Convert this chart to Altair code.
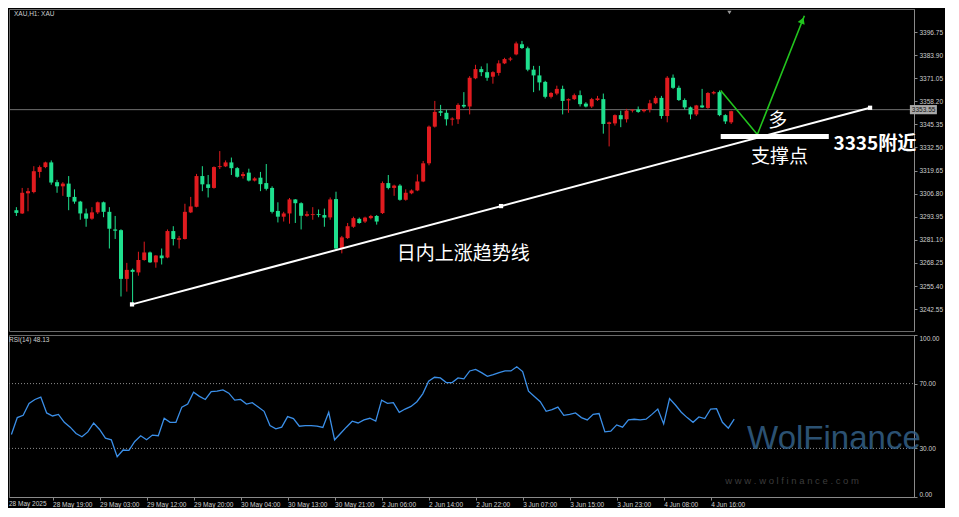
import altair as alt
import pandas as pd

# ---------------- data ----------------
opens = [3297.6, 3295.8, 3307.0, 3307.7, 3318.9, 3321.6, 3324.2, 3313.2, 3310.9, 3312.4,
         3305.0, 3302.4, 3295.8, 3292.9, 3296.4, 3302.0, 3296.7, 3286.9, 3286.5, 3259.4,
         3264.4, 3263.0, 3269.9, 3274.1, 3268.6, 3272.4, 3271.3, 3286.0, 3281.2, 3281.6,
         3296.4, 3299.5, 3316.6, 3312.0, 3310.0, 3321.6, 3322.0, 3324.2, 3321.0, 3316.6,
         3318.5, 3314.1, 3315.7, 3312.7, 3310.0, 3297.2, 3294.0, 3295.8, 3303.6, 3301.5,
         3294.5, 3294.9, 3295.4, 3294.9, 3293.6, 3303.8, 3276.3, 3282.1, 3288.4, 3292.8,
         3291.3, 3293.2, 3294.4, 3296.0, 3312.7, 3310.0, 3311.3, 3303.4, 3307.0, 3308.6,
         3313.6, 3323.7, 3344.1, 3352.7, 3351.8, 3348.0, 3348.2, 3356.2, 3355.3, 3371.0,
         3376.1, 3374.4, 3371.9, 3374.0, 3379.3, 3381.4, 3384.3, 3390.0, 3387.7, 3375.8,
         3372.6, 3369.0, 3360.7, 3362.5, 3365.1, 3358.7, 3359.4, 3361.6, 3356.9, 3355.3,
         3358.9, 3359.4, 3345.6, 3345.9, 3350.5, 3348.2, 3353.0, 3353.6, 3352.7, 3353.6,
         3357.1, 3360.1, 3350.0, 3371.3, 3365.7, 3358.9, 3354.8, 3350.9, 3355.9, 3354.5,
         3362.6, 3363.3, 3350.5, 3346.5]
highs = [3299.3, 3310.0, 3310.0, 3322.1, 3322.5, 3324.6, 3325.3, 3314.5, 3313.2, 3316.6,
         3309.2, 3302.8, 3298.5, 3299.3, 3302.4, 3302.4, 3299.3, 3294.4, 3287.0, 3268.3,
         3265.1, 3274.5, 3280.1, 3274.6, 3272.6, 3276.3, 3286.9, 3288.7, 3283.3, 3301.2,
         3305.0, 3317.8, 3322.1, 3317.2, 3322.0, 3330.5, 3325.3, 3326.9, 3321.6, 3318.9,
         3320.7, 3316.0, 3318.9, 3323.3, 3310.9, 3302.0, 3296.7, 3304.4, 3303.8, 3302.0,
         3297.0, 3299.3, 3298.0, 3298.5, 3304.7, 3307.9, 3283.3, 3290.5, 3294.0, 3293.5,
         3294.0, 3295.0, 3294.9, 3313.6, 3317.2, 3311.8, 3312.1, 3309.2, 3309.2, 3317.5,
         3325.0, 3344.7, 3358.4, 3356.2, 3353.5, 3349.3, 3357.1, 3363.3, 3372.2, 3378.5,
         3377.6, 3379.3, 3374.9, 3381.0, 3382.4, 3382.9, 3391.4, 3391.8, 3388.6, 3377.9,
         3377.9, 3369.6, 3363.3, 3366.9, 3366.9, 3359.8, 3362.5, 3364.2, 3357.7, 3360.1,
         3361.2, 3362.5, 3346.9, 3350.9, 3353.0, 3354.0, 3353.6, 3355.3, 3354.0, 3359.0,
         3361.2, 3361.2, 3372.2, 3373.1, 3366.9, 3359.8, 3355.3, 3356.2, 3365.1, 3363.3,
         3364.0, 3364.2, 3351.0, 3353.0]
lows = [3294.4, 3295.5, 3297.0, 3307.0, 3315.7, 3321.0, 3311.8, 3307.3, 3305.6, 3297.6,
        3301.2, 3292.3, 3288.4, 3292.3, 3295.5, 3293.7, 3276.3, 3281.6, 3249.6, 3252.3,
        3245.2, 3261.2, 3269.5, 3268.3, 3265.6, 3267.4, 3270.9, 3278.0, 3276.3, 3281.3,
        3296.0, 3299.2, 3308.2, 3304.7, 3309.6, 3320.5, 3321.6, 3317.2, 3315.7, 3315.2,
        3313.6, 3313.6, 3308.2, 3308.6, 3295.8, 3290.8, 3291.3, 3290.1, 3290.5, 3286.9,
        3294.0, 3292.3, 3293.7, 3288.4, 3292.3, 3275.5, 3273.6, 3281.6, 3287.8, 3290.1,
        3290.5, 3292.5, 3289.6, 3295.5, 3309.2, 3305.6, 3302.9, 3302.9, 3306.5, 3308.2,
        3313.2, 3322.6, 3343.6, 3350.0, 3344.7, 3344.7, 3345.6, 3354.5, 3350.9, 3370.5,
        3372.2, 3369.6, 3368.0, 3372.5, 3378.9, 3380.5, 3383.8, 3387.3, 3374.9, 3363.3,
        3364.2, 3359.8, 3359.8, 3361.6, 3350.9, 3351.8, 3358.9, 3355.3, 3354.8, 3354.5,
        3358.4, 3340.2, 3333.1, 3344.7, 3343.8, 3346.4, 3352.0, 3351.8, 3352.0, 3352.0,
        3356.6, 3348.5, 3346.5, 3365.1, 3358.4, 3353.6, 3348.2, 3350.0, 3354.5, 3354.0,
        3362.0, 3349.9, 3345.6, 3345.6]
closes = [3296.1, 3307.3, 3308.2, 3319.3, 3321.6, 3324.2, 3313.0, 3310.9, 3312.4, 3305.0,
          3302.4, 3295.8, 3292.9, 3296.4, 3302.0, 3296.7, 3287.3, 3286.2, 3259.4, 3264.4,
          3263.3, 3269.9, 3274.1, 3268.6, 3272.4, 3270.9, 3286.0, 3281.6, 3282.0, 3296.7,
          3299.7, 3316.6, 3312.0, 3310.0, 3321.6, 3322.1, 3324.2, 3321.0, 3316.2, 3317.7,
          3314.1, 3315.3, 3312.1, 3309.5, 3296.7, 3294.0, 3295.8, 3303.6, 3301.5, 3294.5,
          3295.4, 3295.4, 3294.9, 3293.5, 3303.6, 3276.3, 3282.5, 3288.7, 3293.2, 3290.5,
          3293.5, 3294.4, 3291.3, 3312.7, 3310.0, 3311.3, 3303.4, 3307.3, 3308.6, 3313.6,
          3323.7, 3344.1, 3352.3, 3351.8, 3348.2, 3348.6, 3356.2, 3355.3, 3371.3, 3376.1,
          3374.4, 3371.3, 3374.4, 3379.3, 3381.7, 3382.0, 3390.4, 3387.9, 3375.8, 3372.6,
          3368.7, 3360.7, 3362.8, 3365.1, 3358.4, 3359.4, 3361.6, 3356.6, 3355.3, 3359.4,
          3359.8, 3345.6, 3346.5, 3350.5, 3348.2, 3353.0, 3353.6, 3352.3, 3353.6, 3357.1,
          3360.1, 3350.0, 3371.3, 3365.7, 3358.9, 3354.8, 3350.9, 3355.9, 3354.8, 3362.8,
          3363.3, 3350.5, 3347.0, 3352.7]
rsi = [38.6, 49.0, 50.4, 57.8, 60.2, 61.7, 51.9, 50.0, 51.0, 46.1,
       43.1, 39.2, 37.2, 40.2, 45.7, 41.7, 36.3, 35.3, 24.9, 29.0,
       28.8, 34.3, 37.8, 35.3, 38.2, 37.8, 48.6, 46.1, 46.1, 55.5,
       57.4, 64.7, 62.1, 60.2, 65.1, 65.3, 66.1, 64.1, 59.8, 60.2,
       57.4, 58.2, 55.5, 52.9, 44.1, 42.1, 43.1, 49.6, 48.4, 43.7,
       44.1, 44.1, 43.7, 42.9, 52.3, 35.3, 39.2, 43.1, 46.8, 45.7,
       47.6, 48.6, 46.8, 59.8, 57.8, 58.2, 52.3, 54.3, 55.9, 58.8,
       63.7, 71.5, 73.9, 73.5, 70.6, 70.6, 73.5, 72.9, 77.8, 78.8,
       76.8, 74.5, 75.5, 76.8, 77.8, 77.8, 80.4, 77.4, 65.3, 62.1,
       58.8, 52.9, 53.9, 55.5, 50.4, 51.0, 51.9, 49.0, 47.6, 51.0,
       51.5, 40.2, 40.6, 44.5, 43.1, 47.6, 48.0, 47.6, 48.0, 51.0,
       54.3, 45.1, 60.8, 56.8, 52.3, 49.0, 46.1, 49.4, 48.4, 54.3,
       54.5, 46.1, 42.5, 48.13]

price_ticks = [3242.55, 3255.40, 3268.25, 3281.10, 3293.95, 3306.80, 3319.65,
               3332.50, 3345.35, 3358.20, 3371.05, 3383.90, 3396.75]
rsi_ticks = [0, 30, 70, 100]
time_tick_bars = [7, 15, 23, 31, 39, 47, 55, 63, 71, 79, 87, 95, 103, 111, 119]
time_tick_labels = ["28 May 19:00", "29 May 03:00", "29 May 12:00", "29 May 20:00",
                    "30 May 04:00", "30 May 13:00", "30 May 21:00", "2 Jun 06:00",
                    "2 Jun 14:00", "2 Jun 22:00", "3 Jun 07:00", "3 Jun 15:00",
                    "3 Jun 23:00", "4 Jun 08:00", "4 Jun 16:00"]
first_date_label = "28 May 2025"
current_price = 3353.55

trend_bars = [19.9, 83.4, 146.9]
trend_prices = [3245.2, 3299.9, 3354.6]
arrow_bars = [121.2, 127.5, 135.6]
arrow_prices = [3364.2, 3339.7, 3405.8]
support_bars = [121.2, 139.8]
support_price = 3338.6

# ---------------- styling ----------------
RED = "#e01b1f"
GREEN = "#1ee08e"
AXIS_GRAY = "#8a8a8a"
LABEL = "#cfcfcf"
W, H1, H2 = 905, 322, 162

xs = alt.Scale(domain=[-0.41, 153.6], nice=False, zero=False)
ys = alt.Scale(domain=[3230.4, 3409.55], nice=False, zero=False)
rs = alt.Scale(domain=[0, 100], nice=False, zero=False)

bars = pd.DataFrame({"i": list(range(len(opens))), "open": opens, "high": highs,
                     "low": lows, "close": closes})
bars["dir"] = ["up" if c >= o else "down" for o, c in zip(opens, closes)]
cscale = alt.Scale(domain=["up", "down"], range=[RED, GREEN])

price_axis = alt.Axis(orient="right", values=price_ticks, format=".2f", labelFontSize=6.5,
                      labelColor=LABEL, labelFont="Liberation Sans", domainColor=AXIS_GRAY,
                      tickColor=AXIS_GRAY, tickSize=3, grid=False, title=None,
                      labelPadding=2)
label_expr = "[" + ",".join(f"'{s}'" for s in time_tick_labels) + "][(datum.value-7)/8]"
time_axis = alt.Axis(values=time_tick_bars, labelExpr=label_expr, labelAlign="left",
                     labelFontSize=6.5, labelColor=LABEL, labelFont="Liberation Sans",
                     domainColor=AXIS_GRAY, tickColor=AXIS_GRAY, tickSize=3, labelPadding=1,
                     grid=False, title=None, labelFlush=False, labelOverlap=False,
                     labelBound=False)
rsi_axis = alt.Axis(orient="right", values=rsi_ticks, format=".2f", labelFontSize=6.5,
                    labelColor=LABEL, labelFont="Liberation Sans", domainColor=AXIS_GRAY,
                    tickColor=AXIS_GRAY, tickSize=3, grid=False, title=None, labelPadding=2,
                    labelFlush=True)


def PX(f="i:Q"):
    return alt.X(f, scale=xs, axis=None)


def PY(f="p:Q"):
    return alt.Y(f, scale=ys, axis=price_axis)


def RX(f="i:Q"):
    return alt.X(f, scale=xs, axis=time_axis)


def RY(f="r:Q"):
    return alt.Y(f, scale=rs, axis=rsi_axis)


# ---------------- price panel ----------------
cur = alt.Chart(pd.DataFrame({"p": [current_price]})).mark_rule(
    color="#6f6f6f", strokeWidth=1).encode(y=PY())

wicks = alt.Chart(bars).mark_rule(strokeWidth=1).encode(
    x=PX(), y=PY("low:Q"), y2="high:Q",
    color=alt.Color("dir:N", scale=cscale, legend=None))
bodies = alt.Chart(bars).mark_bar(size=4).encode(
    x=PX(), y=PY("open:Q"), y2="close:Q",
    color=alt.Color("dir:N", scale=cscale, legend=None))

trend = pd.DataFrame({"i": trend_bars, "p": trend_prices})
tline = alt.Chart(trend.iloc[[0, 2]]).mark_line(color="white", strokeWidth=2).encode(
    x=PX(), y=PY())
tpts = alt.Chart(trend).mark_square(color="white", size=18, opacity=1).encode(
    x=PX(), y=PY())

arr = pd.DataFrame({"k": [0, 1, 2], "i": arrow_bars, "p": arrow_prices})
aline = alt.Chart(arr).mark_line(color="#22c41e", strokeWidth=1.6).encode(
    x=PX(), y=PY(), order="k:Q")
ahead = alt.Chart(pd.DataFrame({"i": [135.25], "p": [3403.2]})).mark_point(
    shape="triangle-up", filled=True, size=55, angle=22, color="#22c41e", opacity=1).encode(
    x=PX(), y=PY())

sup = alt.Chart(pd.DataFrame({"a": [support_bars[0]], "b": [support_bars[1]],
                              "p": [support_price]})).mark_rule(
    color="white", strokeWidth=5).encode(x=PX("a:Q"), x2="b:Q", y=PY())

cjk = pd.DataFrame({"i": [76.9, 131.0, 131.3], "p": [3273.0, 3347.2, 3327.4],
                    "t": ["日内上涨趋势线", "多", "支撑点"]})
cjk_text = alt.Chart(cjk).mark_text(font="Noto Sans CJK SC", fontSize=19, color="white",
                                    align="center", baseline="middle").encode(
    x=PX(), y=PY(), text="t:N")
lvl_text = alt.Chart(pd.DataFrame({"i": [140.6], "p": [3334.4], "t": ["3335附近"]})).mark_text(
    font="Noto Sans CJK SC", fontSize=19, fontWeight="bold", color="white",
    align="left", baseline="middle").encode(x=PX(), y=PY(), text="t:N")

sym_text = alt.Chart(pd.DataFrame({"i": [-0.41], "p": [3409.55], "t": ["XAU,H1: XAU"]})).mark_text(
    font="Liberation Sans", fontSize=6.5, color=LABEL, align="left", baseline="top", dy=2).encode(
    x=PX(), y=PY(), text="t:N")

shift_mark = alt.Chart(pd.DataFrame({"i": [122.7], "p": [3407.6]})).mark_point(
    shape="triangle-down", filled=True, size=18, color="#9a9a9a", opacity=1).encode(
    x=PX(), y=PY())

pbox = alt.Chart(pd.DataFrame({"a": [153.75], "b": [158.4], "p": [3351.0], "p2": [3356.1]})).mark_rect(
    color="#a9a9a9").encode(x=PX("a:Q"), x2="b:Q", y=PY(), y2="p2:Q")
ptxt = alt.Chart(pd.DataFrame({"i": [153.75], "p": [current_price], "t": [f"{current_price:.2f}"]})).mark_text(
    font="Liberation Sans", fontSize=6.5, color="#111111", align="left", baseline="middle", dx=2).encode(
    x=PX(), y=PY(), text="t:N")

price = alt.layer(cur, wicks, bodies, tline, tpts, aline, ahead, sup, cjk_text, lvl_text,
                  sym_text, shift_mark, pbox, ptxt).properties(width=W, height=H1)

# ---------------- RSI panel ----------------
rdf = pd.DataFrame({"i": list(range(len(rsi))), "r": rsi})

levels = alt.Chart(pd.DataFrame({"i": [-0.41, -0.41], "i2": [153.6, 153.6], "r": [30, 70]})).mark_rule(
    color="#8c8c8c", strokeWidth=1, strokeDash=[1, 2]).encode(x=RX(), x2="i2:Q", y=RY())
rline = alt.Chart(rdf).mark_line(color="#3b8fe8", strokeWidth=1.3).encode(x=RX(), y=RY())
rsi_label = alt.Chart(pd.DataFrame({"i": [-0.41], "r": [100], "t": [f"RSI(14) {rsi[-1]:.2f}"]})).mark_text(
    font="Liberation Sans", fontSize=6.5, color=LABEL, align="left", baseline="top", dy=2).encode(
    x=RX(), y=RY(), text="t:N")
date0 = alt.Chart(pd.DataFrame({"i": [-0.41], "r": [0], "t": [first_date_label]})).mark_text(
    font="Liberation Sans", fontSize=6.5, color=LABEL, align="left", baseline="top", dy=4).encode(
    x=RX(), y=RY(), text="t:N")
wm = alt.Chart(pd.DataFrame({"i": [125.2], "r": [36], "t": ["WolFinance"]})).mark_text(
    font="Liberation Sans", fontSize=33, color="#36668f", opacity=0.8, align="left",
    baseline="middle").encode(x=RX(), y=RY(), text="t:N")
wm2 = alt.Chart(pd.DataFrame({"i": [121.5], "r": [9.6], "t": ["w w w . w o l f i n a n c e . c o m"]})).mark_text(
    font="Liberation Sans", fontSize=9.5, color="#3c3c3c", align="left", baseline="middle").encode(
    x=RX(), y=RY(), text="t:N")

rsi_chart = alt.layer(levels, rline, rsi_label, date0, wm, wm2).properties(width=W, height=H2)

chart = alt.vconcat(price, rsi_chart, spacing=2).properties(
    padding={"left": 0, "top": 0, "right": 2, "bottom": 0}
).configure(background="black").configure_view(stroke="#6a6a6a", strokeWidth=1)

chart.save("out.html", embed_options={"renderer": "svg", "actions": False})
